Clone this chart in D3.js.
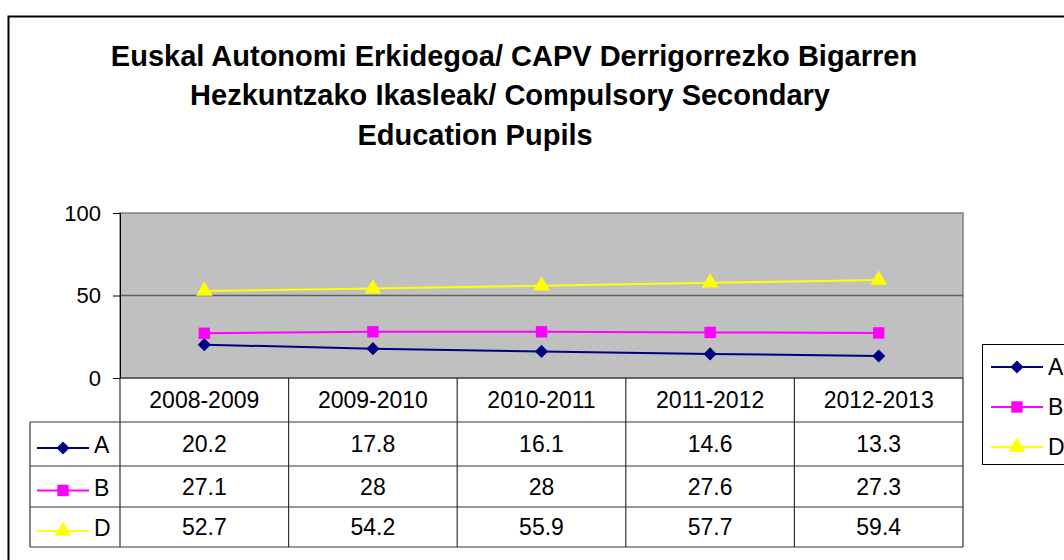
<!DOCTYPE html>
<html>
<head>
<meta charset="utf-8">
<script src="https://cdn.jsdelivr.net/npm/d3@7"></script>
<style>
  html, body { margin: 0; padding: 0; background: #fff; overflow: hidden; }
  svg text { font-family: "Liberation Sans", Arial, sans-serif; fill: #000; }
</style>
</head>
<body>
<div id="container"></div>
<script>
const titleLines = [
  "Euskal Autonomi Erkidegoa/ CAPV Derrigorrezko Bigarren",
  "Hezkuntzako Ikasleak/ Compulsory Secondary",
  "Education Pupils"
];
const categories = ["2008-2009", "2009-2010", "2010-2011", "2011-2012", "2012-2013"];
const seriesNames = ["A", "B", "D"];
const valuesA = [20.2, 17.8, 16.1, 14.6, 13.3];
const valuesB = [27.1, 28, 28, 27.6, 27.3];
const valuesD = [52.7, 54.2, 55.9, 57.7, 59.4];
const yTicks = [0, 50, 100];

const width = 1064, height = 560;
const colors = { A: "#000080", B: "#ff00ff", D: "#ffff00" };
const shapes = { A: d3.symbolDiamond2, B: d3.symbolSquare, D: d3.symbolTriangle };
const sizes = { A: 110, B: 130, D: 120 };
const series = [
  { name: "A", values: valuesA },
  { name: "B", values: valuesB },
  { name: "D", values: valuesD }
];

const plot = { left: 120, right: 963, top: 213, bottom: 378 };
const tableLeft = 30;
const rowLines = [378, 422, 466, 507, 547];
const fs = 23;

const svg = d3.select('#container').append('svg')
  .attr('width', width)
  .attr('height', height);

// outer chart frame (runs off the right and bottom)
svg.append('rect')
  .attr('x', 8.5).attr('y', 16.5)
  .attr('width', 1100).attr('height', 600)
  .attr('fill', '#fff')
  .attr('stroke', '#000')
  .attr('stroke-width', 2);

// title
const titleX = [514, 510, 475];
const titleY = [66, 105, 145];
svg.append('g').selectAll('text')
  .data(titleLines)
  .join('text')
  .attr('x', (d, i) => titleX[i])
  .attr('y', (d, i) => titleY[i])
  .attr('text-anchor', 'middle')
  .attr('font-size', 29)
  .attr('font-weight', 'bold')
  .text(d => d);

const x = d3.scaleBand().domain(categories).range([plot.left, plot.right]);
const y = d3.scaleLinear().domain([0, 100]).range([plot.bottom, plot.top]);
const cx = c => x(c) + x.bandwidth() / 2;

// plot area
svg.append('rect')
  .attr('x', plot.left).attr('y', plot.top)
  .attr('width', plot.right - plot.left).attr('height', plot.bottom - plot.top)
  .attr('fill', '#c0c0c0')
  .attr('stroke', '#808080')
  .attr('stroke-width', 1.5);

// gridlines
svg.append('g').selectAll('line')
  .data(yTicks.filter(t => t > 0 && t < 100))
  .join('line')
  .attr('x1', plot.left).attr('x2', plot.right)
  .attr('y1', d => y(d)).attr('y2', d => y(d))
  .attr('stroke', '#606060')
  .attr('stroke-width', 1.5);

// y axis
const yAxis = svg.append('g')
  .attr('transform', `translate(${plot.left},0)`)
  .call(d3.axisLeft(y).tickValues(yTicks).tickSize(7).tickPadding(12).tickFormat(d3.format('d')));
yAxis.select('.domain').attr('stroke', '#000').attr('stroke-width', 1);
yAxis.selectAll('.tick line').attr('stroke', '#000');
yAxis.selectAll('text').attr('font-size', 22).attr('font-family', '"Liberation Sans", Arial, sans-serif');

// lines and markers
const line = d3.line().x((d, i) => cx(categories[i])).y(d => y(d));
const sg = svg.append('g').selectAll('g')
  .data(series)
  .join('g');
sg.append('path')
  .attr('d', d => line(d.values))
  .attr('fill', 'none')
  .attr('stroke', d => colors[d.name])
  .attr('stroke-width', 2);
sg.selectAll('path.marker')
  .data(d => d.values.map((v, i) => ({ name: d.name, v, c: categories[i] })))
  .join('path')
  .attr('class', 'marker')
  .attr('transform', d => `translate(${cx(d.c)},${y(d.v)})`)
  .attr('d', d => d3.symbol(shapes[d.name], sizes[d.name])())
  .attr('fill', d => colors[d.name]);

// data table
const tg = svg.append('g').attr('stroke', '#333').attr('stroke-width', 1.2);
rowLines.forEach((ly, i) => {
  tg.append('line')
    .attr('x1', i === 0 ? plot.left : tableLeft).attr('x2', plot.right)
    .attr('y1', ly).attr('y2', ly);
});
tg.append('line').attr('x1', tableLeft).attr('x2', tableLeft)
  .attr('y1', rowLines[1]).attr('y2', rowLines[4]);
[plot.left].concat(categories.map(c => x(c) + x.bandwidth())).forEach(lx => {
  tg.append('line').attr('x1', lx).attr('x2', lx)
    .attr('y1', rowLines[0]).attr('y2', rowLines[4]);
});

// category headers
svg.append('g').selectAll('text')
  .data(categories)
  .join('text')
  .attr('x', d => cx(d))
  .attr('y', (rowLines[0] + rowLines[1]) / 2 + 8)
  .attr('text-anchor', 'middle')
  .attr('font-size', fs)
  .text(d => d);

// value rows
series.forEach((s, r) => {
  const mid = (rowLines[r + 1] + rowLines[r + 2]) / 2;
  svg.append('g').selectAll('text')
    .data(s.values)
    .join('text')
    .attr('x', (d, i) => cx(categories[i]))
    .attr('y', mid + 8)
    .attr('text-anchor', 'middle')
    .attr('font-size', fs)
    .text(d => d);
  drawKey(svg, s.name, 37, 89, mid + 4, mid + 9);
});

function drawKey(parent, name, x1, x2, ly, ty) {
  const g = parent.append('g');
  g.append('line')
    .attr('x1', x1).attr('x2', x2).attr('y1', ly).attr('y2', ly)
    .attr('stroke', colors[name]).attr('stroke-width', 2);
  g.append('path')
    .attr('transform', `translate(${(x1 + x2) / 2},${ly})`)
    .attr('d', d3.symbol(shapes[name], sizes[name])())
    .attr('fill', colors[name]);
  g.append('text')
    .attr('x', x2 + 5).attr('y', ty)
    .attr('font-size', fs)
    .text(name);
}

// legend (cut off at the right edge)
svg.append('rect')
  .attr('x', 982.5).attr('y', 344.5)
  .attr('width', 120).attr('height', 120)
  .attr('fill', '#fff')
  .attr('stroke', '#000')
  .attr('stroke-width', 1);
seriesNames.forEach((n, i) => {
  const ly = 367 + i * 40;
  drawKey(svg, n, 991, 1043, ly, ly + 8);
});
</script>
</body>
</html>
